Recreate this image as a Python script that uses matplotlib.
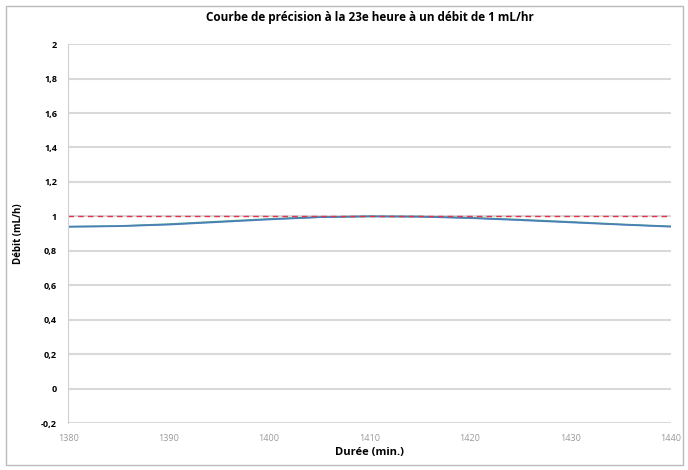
import matplotlib
matplotlib.use("Agg")
import matplotlib.pyplot as plt
from matplotlib.patches import Rectangle

# donnees
duree = [1380, 1385, 1390, 1395, 1400, 1405, 1410, 1415, 1420, 1425, 1430, 1435, 1440]
debit_bleu = [0.94, 0.943, 0.952, 0.967, 0.982, 0.995, 1.0, 0.998, 0.99, 0.978, 0.965, 0.952, 0.94]
debit_vert = [0.94, 0.944, 0.955, 0.970, 0.985, 0.996, 1.0, 0.999, 0.992, 0.981, 0.968, 0.954, 0.942]
consigne = [1, 1]
consigne_x = [1380, 1440]

yticks = [-0.2, 0, 0.2, 0.4, 0.6, 0.8, 1, 1.2, 1.4, 1.6, 1.8, 2]
ylabels = ["-0,2", "0", "0,2", "0,4", "0,6", "0,8", "1", "1,2", "1,4", "1,6", "1,8", "2"]
xticks = [1380, 1390, 1400, 1410, 1420, 1430, 1440]

plt.rcParams["font.family"] = ["Open Sans", "DejaVu Sans"]

fig = plt.figure(figsize=(6.88, 4.70), dpi=100)
fig.patches.append(Rectangle((0.008, 0.01), 0.985, 0.978, transform=fig.transFigure,
                             fill=False, edgecolor="#bbbbbb", linewidth=1))
ax = fig.add_axes([0.099, 0.10, 0.876, 0.806])

ax.plot(duree, debit_vert, color="#4aa38a", linewidth=1.2)
ax.plot(duree, debit_bleu, color="#4a7ebb", linewidth=1.2)
ax.plot(consigne_x, consigne, color="#e0344a", linewidth=1, linestyle=(0, (4, 3)))

ax.set_xlim(1380, 1440)
ax.set_ylim(-0.2, 2)
ax.set_yticks(yticks)
ax.set_yticklabels(ylabels, fontsize=6.5, fontweight="bold")
ax.set_xticks(xticks)
ax.set_xticklabels([str(x) for x in xticks], fontsize=6.5, color="#999999")
ax.grid(axis="y", color="#d9d9d9", linewidth=1.5)
ax.tick_params(length=0, pad=8)
for s in ["top", "right", "bottom"]:
    ax.spines[s].set_visible(False)
ax.spines["left"].set_color("#d0d0d0")
ax.set_axisbelow(True)

ax.set_title("Courbe de précision à la 23e heure à un débit de 1 mL/hr",
             fontsize=8.5, fontweight="bold", pad=17)
ax.set_xlabel("Durée (min.)", fontsize=8, fontweight="bold", labelpad=3)
ax.set_ylabel("Débit (mL/h)", fontsize=7, fontweight="bold", labelpad=12)

plt.savefig("out.png", dpi=100)
